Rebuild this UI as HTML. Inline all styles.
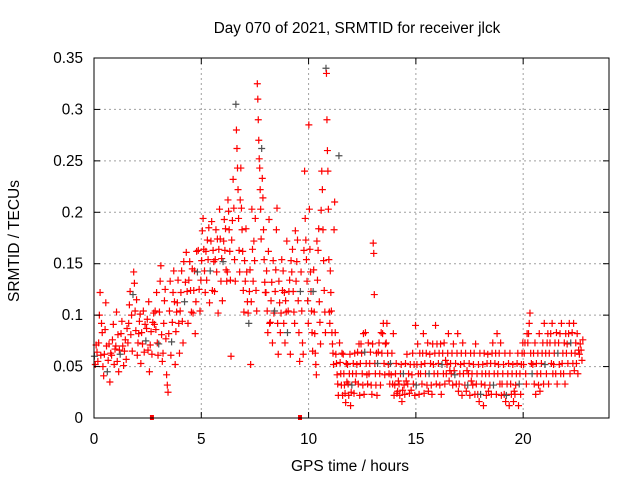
<!DOCTYPE html>
<html><head><meta charset="utf-8"><style>
html,body{margin:0;padding:0;background:#fff}
svg{display:block;font-family:"Liberation Sans",sans-serif}
</style></head><body>
<svg id="chart" width="640" height="480" viewBox="0 0 640 480">
<rect width="640" height="480" fill="#fff"/>
<g id="grid"></g>
<g id="pts"></g>
<g id="axes"></g>
<text x="357" y="33" font-size="15.3" text-anchor="middle" fill="#000">Day 070 of 2021, SRMTID for receiver jlck</text>
<text x="350" y="471" font-size="15.5" text-anchor="middle" fill="#000">GPS time / hours</text>
<text x="19" y="241" font-size="15.5" text-anchor="middle" fill="#000" transform="rotate(-90 19 241)">SRMTID / TECUs</text>
</svg>
<script>
const xTicks=[0,5,10,15,20];
const yTicks=[0,0.05,0.1,0.15,0.2,0.25,0.3,0.35];
const yTickLabels=["0","0.05","0.1","0.15","0.2","0.25","0.3","0.35"];
const markerTimes=[2.7,9.6];
const binStart=[0,0.2,0.4,0.6,0.8,1.0,1.2,1.4,1.6,1.8,2.0,2.2,2.4,2.6,2.8,3.0,3.2,3.4,3.6,3.8,4.0,4.2,4.4,4.6,4.8,5.0,5.2,5.4,5.6,5.8,6.0,6.2,6.4,6.6,6.8,7.0,7.2,7.4,7.6,7.8,8.0,8.2,8.4,8.6,8.8,9.0,9.2,9.4,9.6,9.8,10.0,10.2,10.4,10.6,10.8,11.0,11.2,11.4,11.6,11.8,12.0,12.2,12.4,12.6,12.8,13.0,13.2,13.4,13.6,13.8,14.0,14.2,14.4,14.6,14.8,15.0,15.2,15.4,15.6,15.8,16.0,16.2,16.4,16.6,16.8,17.0,17.2,17.4,17.6,17.8,18.0,18.2,18.4,18.6,18.8,19.0,19.2,19.4,19.6,19.8,20.0,20.2,20.4,20.6,20.8,21.0,21.2,21.4,21.6,21.8,22.0,22.2,22.4,22.6];
const binValues=[
[.06,.052,.071,.064,.055],[.073,.1,.122,.061,.092,.083],[.05,.041,.062,.086,.112,.07],[.045,.056,.072,.035,.063],[.061,.076,.091,.052,.067],
[.07,.103,.055,.081,.045,.066],[.062,.082,.094,.07,.051],[.065,.076,.057,.087,.073],[.092,.11,.123,.081,.1,.065],[.12,.142,.131,.104,.085,.115],
[.061,.073,.082,.094,.101,.053],[.083,.072,.104,.064,.091],[.075,.087,.096,.066,.113,.045],[.071,.084,.062,.093,.102],[.091,.104,.086,.122,.073,.061],
[.072,.103,.133,.148,.081,.055],[.063,.092,.114,.125,.077,.042],[.032,.025,.082,.104,.133,.061],[.074,.093,.122,.143,.113,.052],[.084,.103,.112,.134,.092,.063],
[.104,.122,.143,.094,.073,.152],[.113,.132,.161,.123,.092],[.134,.152,.124,.103,.145],[.102,.124,.143,.082,.113,.162],[.142,.163,.125,.104,.134],
[.153,.182,.194,.164,.143,.122],[.162,.134,.173,.154,.185,.112],[.143,.172,.191,.124,.163,.152],[.123,.154,.183,.142,.174,.102],[.164,.203,.174,.133,.155,.114],
[.152,.172,.193,.163,.184,.144,.133],[.142,.212,.201,.183,.162,.134,.06],[.173,.192,.232,.204,.154,.133],[.305,.28,.262,.243,.222,.194,.163,.142],[.212,.243,.204,.183,.162,.124,.103],
[.153,.133,.184,.142,.113,.102],[.092,.123,.144,.052,.113,.203,.164],[.133,.172,.153,.194,.124,.104],[.325,.31,.29,.27,.252,.243,.222,.203,.174],[.262,.233,.214,.183,.154,.132,.122],
[.122,.143,.104,.083,.162,.193,.092],[.093,.114,.132,.073,.153,.102],[.104,.123,.144,.183,.204,.092,.062],[.133,.112,.083,.102,.154,.124],[.143,.092,.122,.073,.114,.103,.172],
[.083,.104,.123,.134,.062,.153],[.142,.164,.123,.103,.092,.182],[.133,.152,.173,.114,.083,.055],[.123,.142,.104,.073,.062,.163],[.24,.194,.173,.154,.133,.114,.092],
[.285,.203,.164,.142,.123,.104,.083,.065],[.123,.144,.103,.082,.063,.052,.042,.172],[.134,.163,.184,.113,.093,.072,.202],[.24,.222,.183,.153,.124,.103,.083],[.34,.335,.29,.26,.24,.203,.154,.103,.092],
[.143,.122,.104,.083,.072,.063,.052,.183],[.21,.083,.062,.053,.042,.033,.022],[.255,.073,.054,.043,.032,.063,.022],[.062,.043,.032,.024,.015,.053,.035],[.052,.033,.022,.043,.062,.012,.025],
[.032,.043,.053,.024,.063,.035],[.043,.052,.064,.033,.072,.022],[.053,.072,.063,.043,.032,.082,.023],[.064,.083,.053,.042,.033,.073],[.043,.053,.064,.032,.023,.072],
[.17,.16,.12,.053,.043,.032,.063,.022],[.053,.064,.073,.043,.032,.083],[.063,.082,.092,.053,.042,.072],[.073,.092,.063,.052,.043,.033],[.053,.042,.063,.033,.082,.022],
[.032,.043,.053,.024,.026,.036],[.033,.022,.043,.052,.016,.027],[.043,.032,.023,.053,.036,.062],[.033,.043,.024,.052,.027],[.042,.063,.033,.052,.022,.09],
[.032,.052,.072,.043,.023,.063],[.043,.052,.033,.063,.082,.024],[.053,.043,.063,.032,.073,.026],[.043,.062,.053,.032,.023,.072],[.052,.043,.063,.09,.033,.072],
[.043,.053,.063,.032,.072,.023],[.052,.063,.043,.073,.033,.056],[.043,.052,.063,.082,.036,.046],[.053,.043,.063,.032,.072,.046],[.042,.053,.033,.063,.082,.026],
[.033,.043,.052,.063,.022,.073],[.043,.053,.032,.063,.026,.046],[.032,.043,.053,.022,.063,.036],[.043,.032,.052,.063,.023,.072],[.033,.043,.023,.052,.016,.063],
[.023,.033,.043,.052,.012,.063],[.032,.043,.022,.053,.062,.026],[.043,.032,.053,.023,.063,.073],[.032,.043,.053,.063,.023,.082],[.043,.052,.063,.033,.073,.022],
[.033,.043,.052,.023,.063,.016],[.022,.033,.043,.053,.012,.063],[.033,.023,.043,.052,.016,.026],[.023,.032,.043,.053,.063,.012],[.033,.043,.023,.052,.063,.073],
[.052,.063,.073,.043,.033,.082],[.073,.082,.092,.102,.063,.053],[.043,.052,.063,.033,.073,.023],[.053,.043,.063,.032,.082,.026],[.043,.053,.063,.073,.033,.092],
[.052,.063,.043,.073,.082,.033],[.063,.073,.082,.053,.092,.043],[.052,.063,.073,.043,.083,.033],[.063,.073,.052,.082,.043,.092],[.053,.063,.043,.073,.033,.082],
[.063,.072,.053,.082,.092,.043],[.073,.063,.083,.053,.092,.046],[.063,.073,.053,.082,.043,.066],[.062,.072,.066,.056,.076]
];
const L=94,R=609,T=58,B=418,XMAX=24,YMAX=0.35,BINW=0.2;
const NS="http://www.w3.org/2000/svg";
function xs(t){return L+(R-L)*t/XMAX;}
function ys(v){return B-(B-T)*v/YMAX;}
function mk(tag,attrs,parent){const e=document.createElementNS(NS,tag);for(const k in attrs)e.setAttribute(k,attrs[k]);parent.appendChild(e);return e;}
const grid=document.getElementById('grid'),axes=document.getElementById('axes'),pts=document.getElementById('pts');
yTicks.forEach((v,i)=>{
  const y=ys(v);
  if(i>0&&i<yTicks.length-1){const g=mk('line',{x1:L,x2:R,y1:y,y2:y,stroke:'#a0a0a0','stroke-dasharray':'2,3'},grid);
  
  }
  mk('line',{x1:L,x2:L+6,y1:y,y2:y,stroke:'#000'},axes);
  mk('line',{x1:R-6,x2:R,y1:y,y2:y,stroke:'#000'},axes);
  const t=mk('text',{x:L-11,y:y+5,'font-size':15.3,'text-anchor':'end'},axes);t.textContent=yTickLabels[i];
  
  
});
xTicks.forEach(v=>{
  const x=xs(v);
  if(v>0){const g=mk('line',{x1:x,x2:x,y1:T,y2:B,stroke:'#a0a0a0','stroke-dasharray':'2,3'},grid);
  
  }
  mk('line',{x1:x,x2:x,y1:B,y2:B-6,stroke:'#000'},axes);
  mk('line',{x1:x,x2:x,y1:T,y2:T+6,stroke:'#000'},axes);
  const t=mk('text',{x:x,y:B+26,'font-size':15.3,'text-anchor':'middle'},axes);t.textContent=String(v);
  
  
});
const frame=mk('rect',{x:L,y:T,width:R-L,height:B-T,fill:'none',stroke:'#000'},axes);


binStart.forEach((t0,bi)=>{
  const vals=binValues[bi];
  vals.forEach((v,j)=>{
    const x=xs(t0+BINW*(j+0.5)/vals.length),y=ys(v);
    const col=(bi%3===0&&j===0)?'#505050':'#ff0000';
    const p=mk('path',{d:`M${x-3.5},${y}h7M${x},${y-3.5}v7`,stroke:col,'stroke-width':1.2,fill:'none'},pts);
    
    
  });
});
markerTimes.forEach(t=>{
  const r=mk('rect',{x:xs(t)-2,y:B-3,width:4,height:5,fill:'#ff0000'},pts);
  
  
});
</script>
</body></html>
